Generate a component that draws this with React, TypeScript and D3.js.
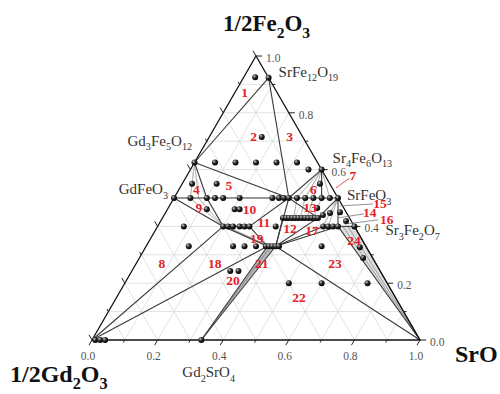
import * as d3 from "d3";

type C = [number, number]; // [SrO, 1/2Fe2O3] mole fractions, 1/2Gd2O3 = remainder

// corners and compounds
const G: C = [0, 0];
const S: C = [1, 0];
const F: C = [0, 1];
const M: C = [1 / 13, 12 / 13]; // SrFe12O19
const GIG: C = [0, 0.625]; // Gd3Fe5O12
const GF: C = [0, 0.5]; // GdFeO3
const S46: C = [0.4, 0.6]; // Sr4Fe6O13
const SF: C = [0.5, 0.5]; // SrFeO3
const S32: C = [0.6, 0.4]; // Sr3Fe2O7
const G2S: C = [1 / 3, 0]; // Gd2SrO4
// solid solution limits
const P: C = [0.35, 0.5];
const J1: C = [0.2, 0.4];
const J2: C = [0.28, 0.4];
const K1: C = [0.37, 0.33];
const K2: C = [0.395, 0.33];
const U: C = [0.367, 0.43];
const T: C = [0.474, 0.43];
const R: C = [0.505, 0.4];
const Q: C = [0.55, 0.4];

const compoundLabels: { name: string; at: C; dx: number; dy: number; anchor: string }[] = [
  { name: "SrFe12O19", at: M, dx: 10, dy: -1, anchor: "start" },
  { name: "Gd3Fe5O12", at: GIG, dx: -67, dy: -17, anchor: "start" },
  { name: "GdFeO3", at: GF, dx: -6, dy: -4, anchor: "end" },
  { name: "Sr4Fe6O13", at: S46, dx: 11, dy: -7, anchor: "start" },
  { name: "SrFeO3", at: SF, dx: 9, dy: 2, anchor: "start" },
  { name: "Sr3Fe2O7", at: S32, dx: 31, dy: 9, anchor: "start" },
  { name: "Gd2SrO4", at: G2S, dx: -19, dy: 37, anchor: "start" },
];

// sample points (black balls)
const samples: C[] = [
  [0.035, 0.925], M, [0.16, 0.715],
  GIG, [0.0625, 0.625], [0.125, 0.625], [0.1875, 0.625], [0.25, 0.625], [0.3125, 0.625],
  [0.36, 0.6], S46, [0.03, 0.55], [0.105, 0.55], [0.42, 0.55],
  GF, [0.05, 0.5], [0.1, 0.5], [0.125, 0.5], [0.15, 0.5], [0.2, 0.5], [0.3, 0.5], [0.32, 0.5],
  [0.335, 0.5], [0.35, 0.5], [0.375, 0.5], [0.4, 0.5], [0.425, 0.5], [0.45, 0.5], [0.475, 0.5], SF,
  [0.12, 0.46], [0.205, 0.46], [0.22, 0.46],
  [0.454, 0.465], [0.484, 0.44], [0.502, 0.447], [0.531, 0.45], [0.565, 0.419],
  [0.367, 0.43], [0.377, 0.43], [0.386, 0.43], [0.396, 0.43], [0.405, 0.43], [0.415, 0.43],
  [0.425, 0.43], [0.435, 0.43], [0.445, 0.43], [0.455, 0.43], [0.465, 0.43], [0.474, 0.43],
  [0.08, 0.4], [0.2, 0.4], [0.215, 0.4], [0.23, 0.4], [0.25, 0.4], [0.265, 0.4], [0.28, 0.4],
  [0.36, 0.4], [0.505, 0.4], [0.52, 0.4], [0.535, 0.4], [0.55, 0.4], S32,
  [0.13, 0.33], [0.265, 0.33], [0.3, 0.33], [0.335, 0.33], [0.365, 0.33], [0.375, 0.33],
  [0.385, 0.33], [0.395, 0.33], [0.405, 0.33], [0.535, 0.33], [0.653, 0.327], [0.682, 0.289],
  [0.3, 0.243], [0.325, 0.243],
  [0.5, 0.2], [0.6, 0.2], [0.74, 0.2],
  [0.01, 0], [0.025, 0], [0.04, 0], G2S,
];

const mainLines: [C, C][] = [
  [GIG, M], [M, P], [S46, P], [GIG, P], [GIG, [0.1, 0.5]], [GF, J1], [[0.1, 0.5], J1],
  [G, J1], [G, K1], [J1, K1], [J2, K1], [J2, P], [P, K2], [P, T], [U, K2], [T, K2],
  [R, K2], [Q, K2], [K2, S], [G2S, K1], [G2S, K2], [Q, S], [S32, S], [SF, T], [SF, Q],
  [S46, [0.45, 0.5]], [GF, SF], [J1, J2], [R, S32], [U, T], [K1, K2],
];

const thinLines: [C, C][] = [
  [GIG, [0.05, 0.5]], [GIG, [0.075, 0.5]], [[0.05, 0.5], J1], [[0.075, 0.5], J1],
  [S46, [0.375, 0.5]], [S46, [0.4, 0.5]], [S46, [0.425, 0.5]], [S46, [0.475, 0.5]],
  [[0.375, 0.5], [0.4, 0.43]], [[0.4, 0.5], [0.42, 0.43]], [[0.425, 0.5], [0.44, 0.43]],
  [[0.45, 0.5], [0.46, 0.43]], [[0.205, 0.4], [0.375, 0.33]], [G2S, [0.38, 0.33]],
  [[0.565, 0.4], S], [[0.58, 0.4], S], [SF, R], [SF, [0.52, 0.4]],
];

const bands: C[][] = [
  [Q, S32, S],
  [G2S, K1, K2],
  [J1, [0.215, 0.4], [0.38, 0.33], K1],
];

const regionNames = ["1", "2", "3", "4", "5", "6", "7", "8", "9", "10", "11", "12",
  "13", "14", "15", "16", "17", "18", "19", "20", "21", "22", "23", "24"];
const regionAt: C[] = [
  [0.03, 0.87], [0.135, 0.715], [0.245, 0.715], [0.053, 0.53], [0.145, 0.545], [0.41, 0.53],
  [0.505, 0.58], [0.078, 0.27], [0.092, 0.468], [0.25, 0.46], [0.318, 0.412], [0.407, 0.394],
  [0.432, 0.465], [0.622, 0.45], [0.637, 0.482], [0.686, 0.426], [0.477, 0.387], [0.239, 0.271],
  [0.323, 0.359], [0.324, 0.211], [0.382, 0.271], [0.557, 0.148], [0.605, 0.271], [0.623, 0.352],
];

// leader lines for small regions 7, 15, 14, 16
const leaders: { from: C; to: C; red: boolean }[] = [
  { from: [0.5, 0.57], to: [0.476, 0.535], red: true },
  { from: [0.52, 0.472], to: [0.617, 0.479], red: false },
  { from: [0.535, 0.43], to: [0.607, 0.444], red: false },
  { from: [0.567, 0.408], to: [0.661, 0.423], red: false },
];

const tickValues = d3.range(0, 11).map((i) => i / 10);
const labelValues = ["0.0", "0.2", "0.4", "0.6", "0.8", "1.0"];

const xScale = d3.scaleLinear().domain([0, 1]).range([92, 420]);
const yScale = d3.scaleLinear().domain([0, 1]).range([340, 56]);
const proj = (c: C): [number, number] => [xScale(c[0] + c[1] / 2), yScale(c[1])];

const SERIF = "'Liberation Serif', 'Times New Roman', serif";
const RED = "#e4222b";

function Chem({ x, y, text, size, anchor = "start", bold = false, fill = "#333" }: any) {
  const segs: { t: string; sub: boolean }[] = [];
  for (let i = 0; i < text.length; i++) {
    const ch = text[i];
    const sub = /\d/.test(ch) && i > 0 && (/[A-Za-z]/.test(text[i - 1]) || (segs.length > 0 && segs[segs.length - 1].sub));
    const last = segs[segs.length - 1];
    if (last && last.sub === sub) last.t += ch;
    else segs.push({ t: ch, sub });
  }
  const shift = size * 0.3;
  let cur = 0;
  return (
    <text x={x} y={y} fontSize={size} textAnchor={anchor} fontFamily={SERIF}
      fontWeight={bold ? "bold" : "normal"} fill={fill}>
      {segs.map((s, i) => {
        const target = s.sub ? shift : 0;
        const dy = target - cur;
        cur = target;
        return (
          <tspan key={i} dy={dy} fontSize={s.sub ? size * 0.68 : size}>{s.t}</tspan>
        );
      })}
    </text>
  );
}

export default function App() {
  const line = (a: C, b: C) => {
    const [x1, y1] = proj(a);
    const [x2, y2] = proj(b);
    return { x1, y1, x2, y2 };
  };
  const poly = (pts: C[]) => pts.map((p) => proj(p).join(",")).join(" ");
  const grid = tickValues.slice(1, 10);

  return (
    <svg width={500} height={394} style={{ position: "absolute", left: 0, top: 0, background: "#fff" }}>
      <defs>
        <radialGradient id="ball" cx="35%" cy="32%" r="70%">
          <stop offset="0%" stopColor="#c8c8c8" />
          <stop offset="45%" stopColor="#2a2a2a" />
          <stop offset="100%" stopColor="#000" />
        </radialGradient>
      </defs>

      {/* grid */}
      <g stroke="#d6d6d6" strokeWidth={0.7}>
        {grid.map((v) => (
          <g key={v}>
            <line {...line([0, v], [1 - v, v])} />
            <line {...line([v, 0], [v, 1 - v])} />
            <line {...line([1 - v, 0], [0, 1 - v])} />
          </g>
        ))}
      </g>

      {/* shaded two-phase bands */}
      {bands.map((b, i) => (
        <polygon key={i} points={poly(b)} fill={i === 0 ? "#dedede" : "#b8b8b8"} stroke="none" />
      ))}

      {/* thin tie lines */}
      <g stroke="#6a6a6a" strokeWidth={0.55}>
        {thinLines.map((l, i) => <line key={i} {...line(l[0], l[1])} />)}
      </g>

      {/* main tie lines */}
      <g stroke="#3a3a3a" strokeWidth={1.1}>
        {mainLines.map((l, i) => <line key={i} {...line(l[0], l[1])} />)}
      </g>

      {/* triangle */}
      <polygon points={poly([G, S, F])} fill="none" stroke="#111" strokeWidth={1.3} />

      {/* ticks */}
      <g stroke="#222" strokeWidth={1}>
        {tickValues.map((v, i) => {
          const len = i % 2 === 0 ? 6 : 3;
          const [rx, ry] = proj([1 - v, v]);
          const [bx, by] = proj([v, 0]);
          const [lx, ly] = proj([0, 1 - v]);
          return (
            <g key={i}>
              <line x1={rx} y1={ry} x2={rx + len} y2={ry} />
              <line x1={bx} y1={by} x2={bx - len * 0.5} y2={by + len * 0.866} />
              <line x1={lx} y1={ly} x2={lx - len * 0.5} y2={ly - len * 0.866} />
            </g>
          );
        })}
      </g>

      {/* tick labels */}
      <g fontFamily={SERIF} fontSize={11.5} fill="#555">
        {labelValues.map((t) => {
          const v = +t;
          const [rx, ry] = proj([1 - v, v]);
          const [bx, by] = proj([v, 0]);
          return (
            <g key={t}>
              <text x={rx + 10} y={ry + 6}>{t}</text>
              <text x={bx - 4} y={by + 20} textAnchor="middle">{t}</text>
            </g>
          );
        })}
      </g>

      {/* leader lines */}
      {leaders.map((l, i) => (
        <line key={i} {...line(l.from, l.to)} stroke={l.red ? RED : "#777"} strokeWidth={0.8} />
      ))}

      {/* samples */}
      {samples.map((c, i) => {
        const [x, y] = proj(c);
        return <circle key={i} cx={x} cy={y} r={3} fill="url(#ball)" />;
      })}

      {/* compound labels */}
      {compoundLabels.map((l) => {
        const [x, y] = proj(l.at);
        return <Chem key={l.name} x={x + l.dx} y={y + l.dy} text={l.name} size={15} anchor={l.anchor} />;
      })}

      {/* region numbers */}
      <g fontFamily={SERIF} fontWeight="bold" fontSize={13.5} fill={RED} textAnchor="middle">
        {regionNames.map((n, i) => {
          const [x, y] = proj(regionAt[i]);
          return <text key={n} x={x} y={y + 4.5}>{n}</text>;
        })}
      </g>

      {/* corner labels */}
      <Chem x={223} y={31} text="1/2Fe2O3" size={23} bold fill="#111" />
      <Chem x={455} y={362} text="SrO" size={24} bold fill="#111" />
      <Chem x={10} y={382} text="1/2Gd2O3" size={24} bold fill="#111" />
    </svg>
  );
}
